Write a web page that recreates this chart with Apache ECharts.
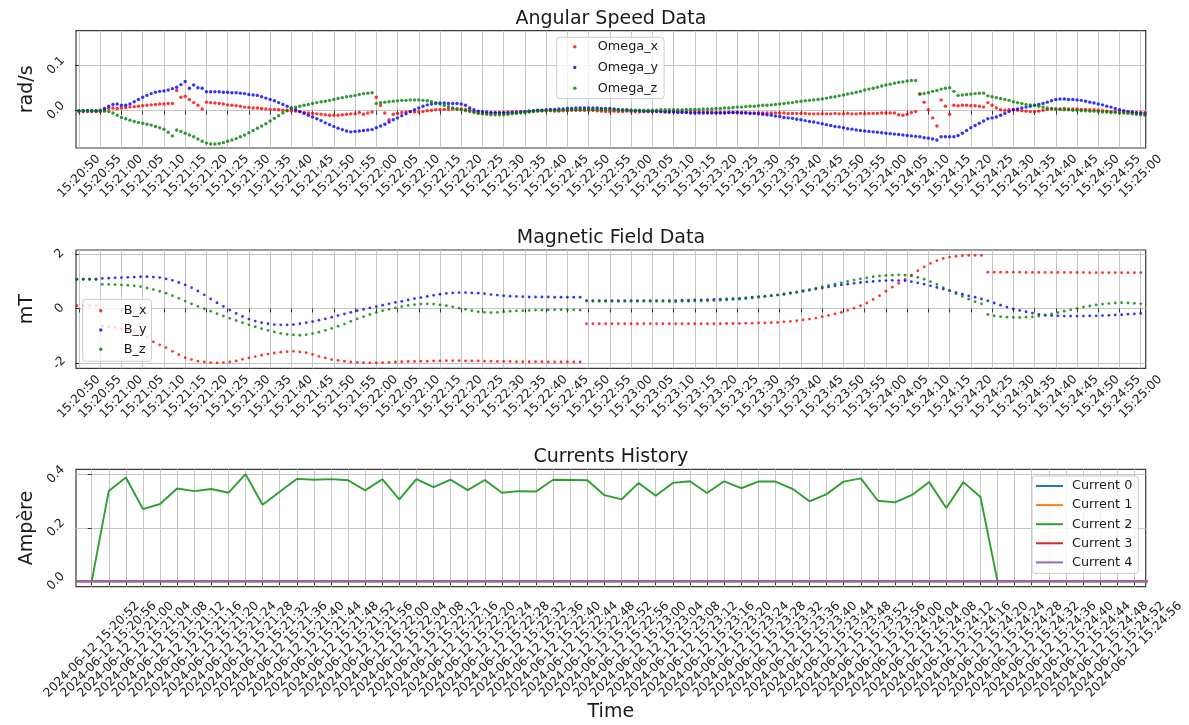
<!DOCTYPE html>
<html><head><meta charset="utf-8">
<script src="https://cdn.jsdelivr.net/npm/echarts@6/dist/echarts.min.js"></script>
<style>html,body{margin:0;padding:0;background:#fff}#c{width:1189px;height:725px}</style>
</head><body><div id="c"></div><script>
// ---------- Angular speed (rad/s), one sample per second from 15:20:50 ----------
const angularStart = '15:20:50';
const angularStep = 1;
const omegaX = [
-.002,-.002,-.002,-.002,-.002,-.002,.002,.005,.006,.005,
.006,.007,.008,.009,.010,.011,.012,.013,.014,.015,
.015,.016,.016,.045,.030,.032,.025,.018,.012,.004,
.019,.018,.017,.016,.015,.013,.012,.011,.010,.008,
.007,.006,.006,.005,.004,.003,.003,.002,.001,.001,
.000,-.001,-.002,-.004,-.005,-.006,-.007,-.008,-.009,-.010,
-.010,-.010,-.009,-.008,-.007,-.007,-.004,-.008,-.005,-.003,
.030,.012,-.005,-.020,-.008,-.006,-.004,-.003,-.002,-.003,
-.003,-.002,.000,.001,.002,.002,.003,.003,.004,.004,
.004,.003,.001,-.002,-.004,-.005,-.005,-.005,-.004,-.004,
-.004,-.003,-.003,-.003,-.002,-.002,-.001,-.001,.000,.000,
.000,.000,-.001,-.001,.000,.000,.001,.001,.001,.001,
.001,.001,.000,-.001,-.002,-.002,-.001,-.002,-.002,-.001,
-.002,-.002,-.003,-.002,-.002,-.002,-.001,-.002,-.002,-.003,
-.002,-.002,-.002,-.003,-.003,-.003,-.003,-.003,-.003,-.003,
-.004,-.004,-.004,-.004,-.004,-.004,-.004,-.004,-.005,-.005,
-.005,-.005,-.005,-.005,-.005,-.005,-.005,-.006,-.006,-.006,
-.006,-.006,-.007,-.007,-.007,-.007,-.007,-.007,-.006,-.007,
-.007,-.006,-.007,-.007,-.006,-.007,-.006,-.006,-.006,-.005,
-.005,-.005,-.005,-.009,-.010,-.008,-.004,-.002,.037,.019,
.002,-.016,-.034,.024,.010,-.008,.012,.011,.012,.012,
.011,.011,.010,.008,.018,.012,.006,.002,.001,.002,
.002,.001,.000,-.001,-.002,-.002,-.001,.001,.003,.004,
.004,.004,.005,.004,.004,.004,.003,.003,.002,.002,
.001,.000,-.001,-.002,-.002,-.003,-.003,-.003,-.004,-.004,
-.004,-.004];
const omegaY = [
.000,.000,.000,.000,.000,.001,.005,.010,.014,.015,
.012,.012,.015,.020,.025,.030,.034,.038,.041,.043,
.044,.046,.049,.052,.058,.065,.050,.057,.051,.050,
.042,.042,.042,.042,.041,.041,.040,.040,.039,.038,
.036,.035,.034,.031,.028,.025,.022,.018,.014,.010,
.006,.002,-.002,-.006,-.010,-.014,-.018,-.022,-.027,-.031,
-.035,-.039,-.042,-.045,-.047,-.046,-.045,-.044,-.043,-.042,
-.038,-.034,-.030,-.025,-.020,-.016,-.011,-.007,-.002,.002,
.006,.010,.013,.015,.016,.017,.017,.016,.016,.016,
.015,.012,.006,.002,-.001,-.002,-.003,-.004,-.005,-.005,
-.005,-.005,-.004,-.004,-.003,-.002,-.001,.000,.001,.001,
.002,.003,.003,.004,.004,.005,.005,.006,.006,.006,
.006,.006,.006,.005,.005,.005,.004,.003,.002,.002,
.001,.000,.000,-.001,-.001,-.001,-.002,-.002,-.003,-.003,
-.003,-.004,-.004,-.004,-.005,-.005,-.005,-.005,-.005,-.005,
-.005,-.005,-.005,-.004,-.004,-.004,-.005,-.005,-.006,-.006,
-.007,-.008,-.009,-.010,-.012,-.013,-.015,-.016,-.017,-.019,
-.020,-.022,-.024,-.025,-.027,-.029,-.031,-.033,-.035,-.036,
-.038,-.040,-.041,-.043,-.044,-.045,-.046,-.047,-.048,-.049,
-.050,-.051,-.052,-.053,-.054,-.055,-.056,-.057,-.058,-.060,
-.061,-.063,-.065,-.058,-.058,-.058,-.058,-.055,-.050,-.044,
-.038,-.033,-.028,-.023,-.018,-.016,-.014,-.010,-.006,-.002,
.002,.004,.006,.008,.010,.012,.014,.016,.019,.022,
.025,.026,.026,.025,.025,.024,.023,.021,.019,.017,
.015,.013,.010,.008,.005,.002,.000,-.002,-.003,-.005,
-.006,-.007];
const omegaZ = [
.000,.000,.000,.000,.000,-.001,-.001,-.002,-.005,-.010,
-.015,-.018,-.021,-.024,-.026,-.028,-.030,-.032,-.035,-.038,
-.041,-.048,-.056,-.043,-.046,-.050,-.054,-.058,-.063,-.068,
-.072,-.074,-.074,-.073,-.071,-.068,-.065,-.062,-.058,-.054,
-.049,-.044,-.039,-.034,-.029,-.023,-.017,-.011,-.005,.000,
.005,.008,.010,.012,.014,.016,.018,.020,.021,.023,
.025,.027,.029,.031,.032,.034,.036,.038,.039,.040,
.016,.018,.019,.020,.021,.022,.023,.023,.024,.024,
.024,.023,.022,.020,.018,.015,.012,.009,.006,.004,
.002,.000,-.002,-.004,-.006,-.007,-.008,-.009,-.009,-.009,
-.009,-.008,-.007,-.006,-.005,-.004,-.003,-.002,-.001,.000,
.000,.001,.001,.001,.002,.002,.002,.002,.002,.002,
.002,.002,.002,.002,.002,.002,.002,.001,.001,.001,
.001,.001,.001,.001,.001,.001,.001,.002,.002,.002,
.002,.002,.002,.003,.003,.003,.003,.004,.004,.004,
.005,.005,.006,.006,.007,.008,.008,.009,.010,.010,
.011,.012,.012,.013,.014,.015,.016,.017,.018,.020,
.021,.022,.023,.024,.025,.026,.028,.030,.031,.033,
.035,.037,.039,.041,.043,.046,.048,.050,.052,.055,
.057,.059,.061,.063,.064,.066,.067,.067,.037,.038,
.040,.043,.045,.048,.050,.051,.043,.034,.035,.036,
.037,.038,.039,.039,.033,.031,.029,.027,.025,.023,
.020,.018,.016,.014,.013,.012,.010,.008,.006,.005,
.004,.003,.002,.002,.001,.001,.000,.000,-.001,-.001,
-.002,-.003,-.003,-.004,-.004,-.005,-.005,-.006,-.007,-.008,
-.009,-.010];

// ---------- Magnetic field (mT), one sample every 1.5 s from 15:20:49.5 ----------
const magStartOffset = -0.5;
const magStep = 1.5;
const bX = [
0.1,0.1,0.1,0.1,-0.65,-0.67,-0.7,-0.74,-0.79,-0.86,
-0.94,-1.06,-1.22,-1.33,-1.43,-1.57,-1.69,-1.8,-1.87,-1.93,
-1.96,-1.98,-1.99,-1.98,-1.96,-1.92,-1.86,-1.81,-1.76,-1.71,
-1.67,-1.63,-1.6,-1.58,-1.57,-1.59,-1.62,-1.68,-1.75,-1.81,
-1.87,-1.9,-1.93,-1.96,-1.97,-1.98,-1.99,-1.99,-1.98,-1.97,
-1.96,-1.95,-1.94,-1.94,-1.93,-1.93,-1.92,-1.92,-1.91,-1.91,
-1.91,-1.92,-1.92,-1.92,-1.93,-1.93,-1.94,-1.94,-1.94,-1.95,
-1.95,-1.95,-1.95,-1.95,-1.96,-1.96,-1.96,-1.96,-1.96,-1.96,
-0.56,-0.56,-0.56,-0.56,-0.56,-0.56,-0.56,-0.56,-0.56,-0.56,
-0.56,-0.56,-0.56,-0.56,-0.56,-0.56,-0.56,-0.56,-0.56,-0.56,
-0.56,-0.56,-0.55,-0.55,-0.55,-0.54,-0.54,-0.53,-0.53,-0.52,
-0.51,-0.49,-0.47,-0.45,-0.42,-0.39,-0.35,-0.3,-0.25,-0.2,
-0.14,-0.07,0.01,0.1,0.2,0.33,0.47,0.63,0.78,0.92,
1.06,1.22,1.38,1.52,1.65,1.75,1.83,1.88,1.91,1.93,
1.94,1.94,1.94,1.33,1.33,1.33,1.33,1.33,1.33,1.32,
1.32,1.32,1.32,1.32,1.32,1.32,1.32,1.32,1.32,1.31,
1.31,1.31,1.31,1.31,1.31,1.31,1.31,1.31];
const bY = [
1.07,1.07,1.07,1.07,1.1,1.11,1.12,1.13,1.14,1.15,
1.16,1.16,1.15,1.13,1.08,1.03,0.95,0.86,0.76,0.64,
0.5,0.35,0.21,0.08,-0.06,-0.18,-0.29,-0.39,-0.46,-0.52,
-0.56,-0.59,-0.6,-0.6,-0.59,-0.56,-0.52,-0.48,-0.43,-0.38,
-0.32,-0.26,-0.2,-0.14,-0.08,-0.03,0.02,0.07,0.12,0.17,
0.22,0.26,0.31,0.36,0.4,0.44,0.48,0.52,0.55,0.57,
0.58,0.58,0.57,0.56,0.54,0.51,0.49,0.47,0.45,0.44,
0.43,0.42,0.42,0.42,0.42,0.41,0.41,0.41,0.41,0.41,
0.29,0.29,0.29,0.29,0.29,0.29,0.29,0.29,0.29,0.29,
0.29,0.29,0.29,0.29,0.29,0.3,0.3,0.31,0.31,0.32,
0.33,0.34,0.35,0.36,0.37,0.39,0.41,0.43,0.45,0.47,
0.49,0.52,0.56,0.59,0.63,0.67,0.71,0.75,0.79,0.83,
0.86,0.89,0.92,0.95,0.97,0.99,1.01,1.02,1.03,1.02,
1.01,0.98,0.94,0.89,0.83,0.77,0.71,0.65,0.58,0.52,
0.46,0.41,0.35,0.28,0.2,0.12,0.05,-0.02,-0.07,-0.12,
-0.17,-0.22,-0.25,-0.26,-0.27,-0.28,-0.28,-0.28,-0.28,-0.27,
-0.27,-0.26,-0.25,-0.24,-0.23,-0.21,-0.2,-0.18];
const bZ = [
1.07,1.07,1.07,1.07,0.88,0.88,0.87,0.86,0.85,0.83,
0.8,0.75,0.69,0.63,0.56,0.47,0.37,0.27,0.17,0.08,
-0.01,-0.1,-0.19,-0.28,-0.36,-0.44,-0.52,-0.6,-0.67,-0.74,
-0.8,-0.86,-0.91,-0.95,-0.97,-0.98,-0.96,-0.92,-0.87,-0.8,
-0.73,-0.65,-0.57,-0.47,-0.38,-0.3,-0.22,-0.15,-0.08,-0.03,
0.02,0.07,0.11,0.14,0.16,0.17,0.16,0.13,0.1,0.06,
0.01,-0.03,-0.08,-0.12,-0.14,-0.15,-0.14,-0.12,-0.1,-0.09,
-0.08,-0.07,-0.06,-0.06,-0.05,-0.05,-0.05,-0.05,-0.05,-0.06,
0.27,0.26,0.26,0.26,0.26,0.26,0.26,0.26,0.26,0.26,
0.26,0.26,0.26,0.25,0.25,0.26,0.26,0.27,0.27,0.28,
0.29,0.3,0.31,0.33,0.34,0.36,0.38,0.41,0.44,0.47,
0.5,0.53,0.57,0.61,0.65,0.69,0.74,0.79,0.84,0.89,
0.94,0.99,1.04,1.08,1.12,1.16,1.19,1.21,1.22,1.23,
1.22,1.19,1.14,1.07,0.98,0.88,0.76,0.65,0.54,0.44,
0.34,0.25,0.17,-0.22,-0.27,-0.3,-0.32,-0.33,-0.33,-0.32,
-0.31,-0.28,-0.24,-0.2,-0.15,-0.1,-0.05,0.0,0.05,0.09,
0.13,0.16,0.18,0.2,0.21,0.2,0.19,0.17];

// ---------- Currents (A), one sample every 4 s from 15:20:52 ----------
const currentDate = '2024-06-12';
const currentStart = '15:20:52';
const currentStep = 4;
const current2 = [
0,0.339,0.389,0.271,0.290,0.348,0.338,0.346,0.332,0.402,
0.287,0.336,0.384,0.381,0.383,0.379,0.341,0.383,0.307,0.383,
0.353,0.381,0.342,0.380,0.332,0.338,0.337,0.381,0.380,0.379,
0.323,0.307,0.369,0.321,0.369,0.375,0.331,0.375,0.349,0.374,
0.374,0.347,0.300,0.327,0.374,0.386,0.302,0.296,0.324,0.372,
0.275,0.372,0.316,0];
// idle channels (0,1,3,4) are recorded over the whole window, from 15:20:48
const idleStartOffset = -4;
const idleCurrent = [
0,0,0,0,0,0,0,0,0,0,0,0,0,0,0,0,0,0,0,0,0,0,0,0,0,0,0,0,0,0,0,0,
0,0,0,0,0,0,0,0,0,0,0,0,0,0,0,0,0,0,0,0,0,0,0,0,0,0,0,0,0,0,0,0];

// ---------- Tick labels ----------
const timeTicks = ['15:20:50','15:20:55',
'15:21:00','15:21:05','15:21:10','15:21:15','15:21:20','15:21:25','15:21:30','15:21:35','15:21:40','15:21:45','15:21:50','15:21:55',
'15:22:00','15:22:05','15:22:10','15:22:15','15:22:20','15:22:25','15:22:30','15:22:35','15:22:40','15:22:45','15:22:50','15:22:55',
'15:23:00','15:23:05','15:23:10','15:23:15','15:23:20','15:23:25','15:23:30','15:23:35','15:23:40','15:23:45','15:23:50','15:23:55',
'15:24:00','15:24:05','15:24:10','15:24:15','15:24:20','15:24:25','15:24:30','15:24:35','15:24:40','15:24:45','15:24:50','15:24:55',
'15:25:00'];
const currentTicks = ['15:20:52','15:20:56',
'15:21:00','15:21:04','15:21:08','15:21:12','15:21:16','15:21:20','15:21:24','15:21:28','15:21:32','15:21:36','15:21:40','15:21:44','15:21:48','15:21:52','15:21:56',
'15:22:00','15:22:04','15:22:08','15:22:12','15:22:16','15:22:20','15:22:24','15:22:28','15:22:32','15:22:36','15:22:40','15:22:44','15:22:48','15:22:52','15:22:56',
'15:23:00','15:23:04','15:23:08','15:23:12','15:23:16','15:23:20','15:23:24','15:23:28','15:23:32','15:23:36','15:23:40','15:23:44','15:23:48','15:23:52','15:23:56',
'15:24:00','15:24:04','15:24:08','15:24:12','15:24:16','15:24:20','15:24:24','15:24:28','15:24:32','15:24:36','15:24:40','15:24:44','15:24:48','15:24:52','15:24:56'];
const angularYTicks = [0, 0.1];
const magYTicks = [-2, 0, 2];
const currentYTicks = [0, 0.2, 0.4];

// ---------- helpers ----------
const FONT = 'DejaVu Sans';
const TXT = '#1a1a1a';
function toSec(s){const p=s.split(':').map(Number);return p[0]*3600+p[1]*60+p[2];}
function hms(sec){sec=Math.round(sec);const h=Math.floor(sec/3600),m=Math.floor(sec%3600/60),s=sec%60;
  return String(h).padStart(2,'0')+':'+String(m).padStart(2,'0')+':'+String(s).padStart(2,'0');}
const base1 = toSec(angularStart);
const base3 = toSec(currentStart);
const timeTickVals = timeTicks.map(t=>toSec(t)-base1);
const currentTickVals = currentTicks.map(t=>toSec(t)-base3);

const GRIDLINE = {color:'#c6c6c6', width:1};
const LABEL = {rotate:45, align:'center', verticalAlign:'middle', fontFamily:FONT, fontSize:12.2,
  lineHeight:8, color:TXT, hideOverlap:false};
const TICK = {length:4, lineStyle:{color:'#333', width:1}};
function xAxisCfg(gi, min, max, ticks, fmt, margin, extra){
  return Object.assign({
    type:'value', gridIndex:gi, min:min, max:max,
    axisLine:{show:false},
    axisTick:Object.assign({show:true, customValues:ticks}, TICK),
    axisLabel:Object.assign({show:true, customValues:ticks, margin:margin, formatter:fmt}, LABEL),
    splitLine:{show:true, lineStyle:GRIDLINE}
  }, extra||{});
}
function yAxisCfg(gi, min, max, ticks, fmt, margin, name){
  return {
    type:'value', gridIndex:gi, min:min, max:max,
    name:name, nameLocation:'middle', nameGap:39, nameRotate:90, nameMoveOverlap:false,
    nameTextStyle:{fontFamily:FONT, fontSize:19, color:TXT},
    axisLine:{show:false},
    axisTick:Object.assign({show:true, customValues:ticks}, TICK),
    axisLabel:Object.assign({show:true, customValues:ticks, margin:margin, formatter:fmt}, LABEL),
    splitLine:{show:true, lineStyle:GRIDLINE}
  };
}
const gridBase = {left:76, right:43.3, show:true, borderColor:'#3a3a3a', borderWidth:1.2,
  backgroundColor:'transparent', containLabel:false};
function legendCfg(names, left, top, gap, pad, icon, iw, ih, extraText){
  return {
    data:names, orient:'vertical', left:left, top:top, selectedMode:false, icon:icon,
    itemWidth:iw, itemHeight:ih, itemGap:gap, padding:pad,
    backgroundColor:'rgba(255,255,255,0.8)', borderColor:'#cccccc', borderWidth:1, borderRadius:3,
    textStyle:Object.assign({fontFamily:FONT, fontSize:12.8, color:TXT, lineHeight:14}, extraText||{})
  };
}
function scatter(name, arr, gi, t0, step, color, size){
  return {name:name, type:'scatter', xAxisIndex:gi, yAxisIndex:gi, symbol:'circle', symbolSize:size,
    itemStyle:{color:color}, data:arr.map((v,i)=>[t0+i*step, v]), silent:true};
}
function line(name, arr, t0, color){
  return {name:name, type:'line', xAxisIndex:2, yAxisIndex:2, symbol:'none', clip:true,
    lineStyle:{width:1.9, color:color}, itemStyle:{color:color},
    data:arr.map((v,i)=>[t0+i*currentStep, v]), silent:true};
}
const fmtT1 = v => hms(base1+v);
const fmtT3 = v => currentDate+' '+hms(base3+v);
const fmt1 = v => v.toFixed(1);
const fmtInt = v => String(v);

const titleStyle = {fontFamily:FONT, fontSize:19, fontWeight:'normal', color:TXT};
const option = {
  animation:false,
  backgroundColor:'#ffffff',
  title:[
    {text:'Angular Speed Data', left:610.9, top:9.5, textAlign:'center', textStyle:titleStyle, padding:0},
    {text:'Magnetic Field Data', left:610.9, top:228.5, textAlign:'center', textStyle:titleStyle, padding:0},
    {text:'Currents History', left:610.9, top:448, textAlign:'center', textStyle:titleStyle, padding:0}
  ],
  grid:[
    Object.assign({top:30.7, height:117.3}, gridBase),
    Object.assign({top:250, height:118.3}, gridBase),
    Object.assign({top:469.3, height:117.4}, gridBase)
  ],
  xAxis:[
    xAxisCfg(0, -0.706, 251.17, timeTickVals, fmtT1, 28.5),
    xAxisCfg(1, -0.706, 251.17, timeTickVals, fmtT1, 28.5),
    xAxisCfg(2, -3.67, 246.67, currentTickVals, fmtT3, 63,
      {name:'Time', nameLocation:'middle', nameGap:116, nameMoveOverlap:false,
       nameTextStyle:{fontFamily:FONT, fontSize:19, color:TXT}})
  ],
  yAxis:[
    yAxisCfg(0, -0.0829, 0.1778, angularYTicks, fmt1, 20, 'rad/s'),
    yAxisCfg(1, -2.19, 2.14, magYTicks, fmtInt, 16.5, 'mT'),
    yAxisCfg(2, -0.02, 0.42, currentYTicks, fmt1, 20, 'Ampère')
  ],
  legend:[
    legendCfg(['Omega_x','Omega_y','Omega_z'], 556.7, 37.3, 6.7, [2.5,6,3.5,16.3], 'circle', 36, 3.5),
    legendCfg(['B_x','B_y','B_z'], 82.7, 299.3, 5.2, [4.5,5,5,16.3], 'circle', 36, 3.5),
    legendCfg(['Current 0','Current 1','Current 2','Current 3','Current 4'], 1032, 476, 5.1, [3,6,4,4], 'rect', 27, 2, {padding:[0,0,0,4]})
  ],
  series:[
    scatter('Omega_x', omegaX, 0, 0, angularStep, '#ff0000', 3.4),
    scatter('Omega_y', omegaY, 0, 0, angularStep, '#0000ff', 3.4),
    scatter('Omega_z', omegaZ, 0, 0, angularStep, '#008000', 3.4),
    scatter('B_x', bX, 1, magStartOffset, magStep, '#ff0000', 2.8),
    scatter('B_y', bY, 1, magStartOffset, magStep, '#0000ff', 2.8),
    scatter('B_z', bZ, 1, magStartOffset, magStep, '#008000', 2.8),
    line('Current 0', idleCurrent, idleStartOffset, '#1f77b4'),
    line('Current 1', idleCurrent, idleStartOffset, '#ff7f0e'),
    line('Current 2', current2, 0, '#2ca02c'),
    line('Current 3', idleCurrent, idleStartOffset, '#d62728'),
    line('Current 4', idleCurrent, idleStartOffset, '#9467bd')
  ]
};
const chart = echarts.init(document.getElementById('c'), null, {renderer:'canvas'});
chart.setOption(option);
</script></body></html>
